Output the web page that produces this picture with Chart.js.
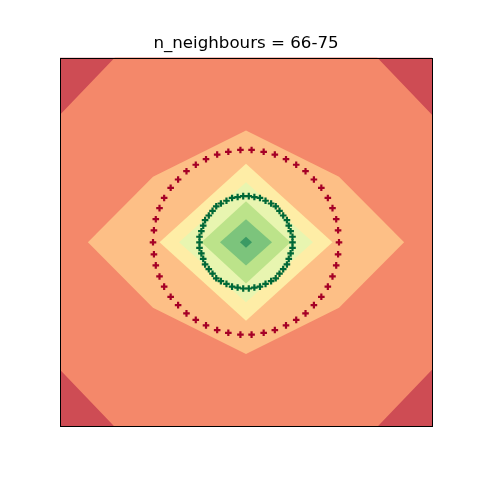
<!DOCTYPE html>
<html>
<head>
<meta charset="utf-8">
<script src="https://cdn.jsdelivr.net/npm/chart.js@4.4.1/dist/chart.umd.min.js"></script>
<style>
html,body{margin:0;padding:0;background:#fff;}
#wrap{width:480px;height:480px;}
</style>
</head>
<body>
<div id="wrap"><canvas id="c" width="480" height="480"></canvas></div>
<script>
// ---- data ----
const titleText = "n_neighbours = 66-75";

// outer ring samples (class 0)
const outerX = [1.00,0.99,0.97,0.93,0.88,0.81,0.73,0.64,0.54,0.43,0.31,0.19,0.06,-0.06,-0.19,-0.31,-0.43,-0.54,-0.64,-0.73,-0.81,-0.88,-0.93,-0.97,-0.99,
                -1.00,-0.99,-0.97,-0.93,-0.88,-0.81,-0.73,-0.64,-0.54,-0.43,-0.31,-0.19,-0.06,0.06,0.19,0.31,0.43,0.54,0.64,0.73,0.81,0.88,0.93,0.97,0.99];
const outerY = [0.00,0.13,0.25,0.37,0.48,0.59,0.68,0.77,0.84,0.90,0.95,0.98,1.00,1.00,0.98,0.95,0.90,0.84,0.77,0.68,0.59,0.48,0.37,0.25,0.13,
                0.00,-0.13,-0.25,-0.37,-0.48,-0.59,-0.68,-0.77,-0.84,-0.90,-0.95,-0.98,-1.00,-1.00,-0.98,-0.95,-0.90,-0.84,-0.77,-0.68,-0.59,-0.48,-0.37,-0.25,-0.13];
// inner ring samples (class 1)
const innerX = [0.50,0.50,0.48,0.46,0.44,0.40,0.36,0.32,0.27,0.21,0.15,0.09,0.03,-0.03,-0.09,-0.15,-0.21,-0.27,-0.32,-0.36,-0.40,-0.44,-0.46,-0.48,-0.50,
                -0.50,-0.50,-0.48,-0.46,-0.44,-0.40,-0.36,-0.32,-0.27,-0.21,-0.15,-0.09,-0.03,0.03,0.09,0.15,0.21,0.27,0.32,0.36,0.40,0.44,0.46,0.48,0.50];
const innerY = [0.00,0.06,0.12,0.18,0.24,0.29,0.34,0.39,0.42,0.45,0.48,0.49,0.50,0.50,0.49,0.48,0.45,0.42,0.39,0.34,0.29,0.24,0.18,0.12,0.06,
                0.00,-0.06,-0.12,-0.18,-0.24,-0.29,-0.34,-0.39,-0.42,-0.45,-0.48,-0.49,-0.50,-0.50,-0.49,-0.48,-0.45,-0.42,-0.39,-0.34,-0.29,-0.24,-0.18,-0.12,-0.06];

// contour level polygons (outermost first)
const level0X = [-2, 2, 2, -2];
const level0Y = [2, 2, -2, -2];
const level1X = [-1.41, 1.41, 2, 2, 1.41, -1.41, -2, -2];
const level1Y = [2, 2, 1.38, -1.38, -2, -2, -1.38, 1.38];
const level2X = [0, 1.0, 1.70, 1.0, 0, -1.0, -1.70, -1.0];
const level2Y = [1.21, 0.71, 0, -0.71, -1.21, -0.71, 0, 0.71];
const level3X = [0, 0.93, 0, -0.93];
const level3Y = [0.85, 0, -0.85, 0];
const level4X = [0, 0.72, 0, -0.72];
const level4Y = [0.65, 0, -0.65, 0];
const level5X = [0, 0.48, 0, -0.48];
const level5Y = [0.445, 0, -0.445, 0];
const level6X = [0, 0.28, 0, -0.28];
const level6Y = [0.25, 0, -0.25, 0];
const level7X = [0, 0.065, 0, -0.065];
const level7Y = [0.06, 0, -0.06, 0];

const axisMin = -2, axisMax = 2;

// ---- styles ----
const levelColors = ['#ce4c54','#f4886a','#fdbf86','#feeda6','#e8f5b0','#bce38a','#7cc47c','#3b9a64'];
const levels = [[level0X,level0Y],[level1X,level1Y],[level2X,level2Y],[level3X,level3Y],
                [level4X,level4Y],[level5X,level5Y],[level6X,level6Y],[level7X,level7Y]];

const toPts = (xs, ys) => xs.map((x, i) => ({x: x, y: ys[i]}));

const datasets = [
  {data: toPts(innerX, innerY), showLine:false, pointStyle:'cross', pointRadius:3.3,
   pointBorderWidth:2.2, borderColor:'#006837', backgroundColor:'#006837', pointHoverRadius:3.3},
  {data: toPts(outerX, outerY), showLine:false, pointStyle:'cross', pointRadius:3.3,
   pointBorderWidth:2.2, borderColor:'#a50026', backgroundColor:'#a50026', pointHoverRadius:3.3}
];
// innermost first so that it is drawn on top
for (let i = levels.length - 1; i >= 0; i--) {
  const [xs, ys] = levels[i];
  const pts = toPts(xs, ys);
  pts.push({x: xs[0], y: ys[0]});
  datasets.push({data: pts, showLine:true, fill:'shape', tension:0, borderWidth:0,
    borderColor:'rgba(0,0,0,0)', backgroundColor: levelColors[i], pointRadius:0, pointHoverRadius:0});
}

const framePlugin = {
  id: 'frame',
  afterDraw(chart) {
    const {ctx, chartArea: a} = chart;
    ctx.save();
    ctx.strokeStyle = '#000';
    ctx.lineWidth = 1;
    ctx.strokeRect(Math.round(a.left) + 0.5, Math.round(a.top) + 0.5,
                   Math.round(a.right) - Math.round(a.left), Math.round(a.bottom) - Math.round(a.top) - 1);
    ctx.restore();
  }
};

new Chart(document.getElementById('c'), {
  type: 'scatter',
  data: {datasets},
  options: {
    responsive: false,
    animation: false,
    events: [],
    layout: {padding: {left: 60, right: 48, top: 0, bottom: 53}},
    plugins: {
      legend: {display: false},
      tooltip: {enabled: false},
      title: {display: true, text: titleText, color: '#000',
        font: {family: 'DejaVu Sans', size: 16.67, weight: 'normal'},
        padding: {top: 33.6, bottom: 4}}
    },
    scales: {
      x: {type: 'linear', min: axisMin, max: axisMax, display: false},
      y: {type: 'linear', min: axisMin, max: axisMax, display: false}
    }
  },
  plugins: [framePlugin]
});
</script>
</body>
</html>
